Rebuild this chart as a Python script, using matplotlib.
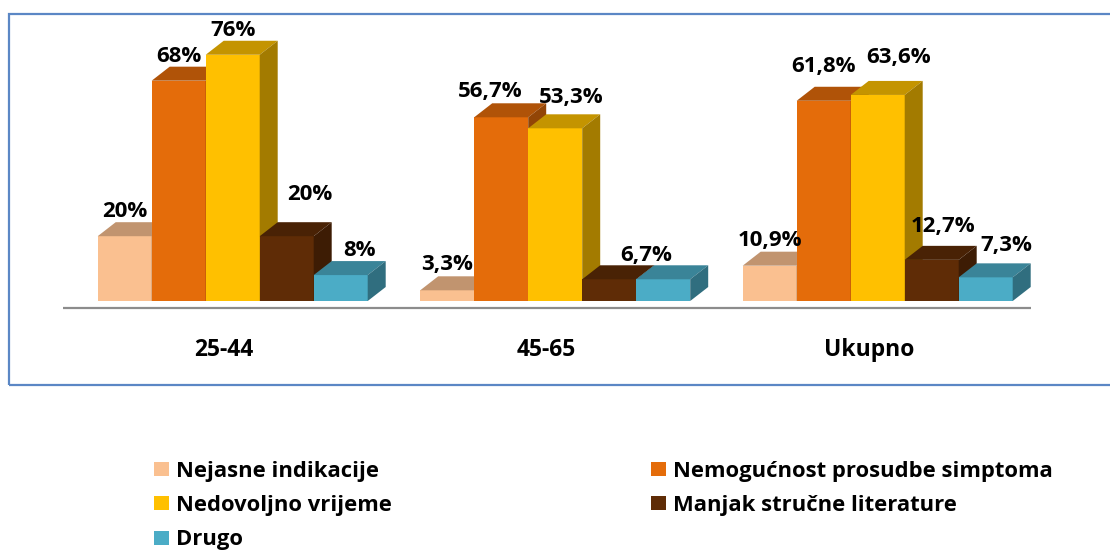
import matplotlib
matplotlib.use("Agg")
import matplotlib.pyplot as plt
from matplotlib.patches import Polygon, Rectangle, Patch
from matplotlib.colors import to_rgb

# ---------------- data ----------------
categories = ["25-44", "45-65", "Ukupno"]
series_names = ["Nejasne indikacije", "Nemogućnost prosudbe simptoma",
                "Nedovoljno vrijeme", "Manjak stručne literature", "Drugo"]
nejasne = [20.0, 3.3, 10.9]
nemogucnost = [68.0, 56.7, 61.8]
nedovoljno = [76.0, 53.3, 63.6]
manjak = [20.0, 6.7, 12.7]
drugo = [8.0, 6.7, 7.3]
series_values = [nejasne, nemogucnost, nedovoljno, manjak, drugo]
# which data labels are shown (one label hidden in the original)
label_shown = [[True, True, True], [True, True, True], [True, True, True],
               [True, False, True], [True, True, True]]

# ---------------- style ----------------
colors = ["#FAC090", "#E46C0A", "#FFC000", "#5F2C06", "#4BACC6"]
TOP_SHADE, SIDE_SHADE = 0.77, 0.64
FONT = ["Open Sans", "DejaVu Sans"]

W_PX, H_PX = 1110, 551
PX_PER_CAT = 322.5          # pixels per category unit
PX_PER_PCT = 3.24           # pixels per percent
ORIGIN_X_PX = 232.7         # pixel x of first category centre
BASE_Y_PX = 301             # pixel y (from top) of bar bases
BAR_W = 54 / PX_PER_CAT
DEPTH_X_PX, DEPTH_Y_PX = 18, 14

# label offsets in pixels (dx, gap above back-top edge) per series / category
label_dx = [[0, 0, 0], [0, -11, 0], [0, 16, 21], [23, 0, 11], [19, -17, 21]]
label_gap = [[5, 6, 6], [5, 6, 15], [5, 11, 18], [22, 0, 14], [5, 4, 12]]


def shade(c, f):
    r, g, b = to_rgb(c)
    return (r * f, g * f, b * f)


fig = plt.figure(figsize=(W_PX / 100, H_PX / 100), dpi=100)
ax = fig.add_axes([0, 0, 1, 1])
ax.set_xlim(-ORIGIN_X_PX / PX_PER_CAT, (W_PX - ORIGIN_X_PX) / PX_PER_CAT)
ax.set_ylim(-(H_PX - BASE_Y_PX) / PX_PER_PCT, BASE_Y_PX / PX_PER_PCT)
ax.axis("off")

ddx = DEPTH_X_PX / PX_PER_CAT
ddy = DEPTH_Y_PX / PX_PER_PCT

xs = list(range(len(categories)))
for j, (vals, col) in enumerate(zip(series_values, colors)):
    pos = [x + (j - 2) * BAR_W for x in xs]
    bars = ax.bar(pos, vals, width=BAR_W, color=col, linewidth=0, zorder=10 + j)
    for i, p in enumerate(bars.patches):
        x0, w, h = p.get_x(), p.get_width(), p.get_height()
        top = Polygon([(x0, h), (x0 + w, h), (x0 + w + ddx, h + ddy), (x0 + ddx, h + ddy)],
                      closed=True, facecolor=shade(col, TOP_SHADE), edgecolor="none", zorder=10 + j)
        side = Polygon([(x0 + w, 0), (x0 + w, h), (x0 + w + ddx, h + ddy), (x0 + w + ddx, ddy)],
                       closed=True, facecolor=shade(col, SIDE_SHADE), edgecolor="none", zorder=10 + j)
        ax.add_patch(top)
        ax.add_patch(side)
        if label_shown[j][i]:
            txt = f"{vals[i]:g}".replace(".", ",") + "%"
            lx = x0 + w / 2 + label_dx[j][i] / PX_PER_CAT
            ly = h + ddy + label_gap[j][i] / PX_PER_PCT
            ax.text(lx, ly, txt, ha="center", va="baseline", fontsize=16,
                    fontweight="bold", family=FONT, color="black", zorder=30)

# floor line
FLOOR_SHIFT_PX, FLOOR_DROP_PX = -8, 7
ax.plot([-0.5 + FLOOR_SHIFT_PX / PX_PER_CAT, len(categories) - 0.5 + FLOOR_SHIFT_PX / PX_PER_CAT],
        [-FLOOR_DROP_PX / PX_PER_PCT] * 2, color="#8C8C8C", lw=1.6, zorder=5,
        solid_capstyle="butt")

# category labels
CAT_DX_PX, CAT_Y_PX = -9, 350
for i, c in enumerate(categories):
    ax.text(i + CAT_DX_PX / PX_PER_CAT, -(CAT_Y_PX - BASE_Y_PX) / PX_PER_PCT, c,
            ha="center", va="center", fontsize=16.5, fontweight="bold", family=FONT)

# chart-area border
fig.patches.append(Rectangle((9 / W_PX, (H_PX - 385) / H_PX), 1.2, (385 - 14) / H_PX,
                             transform=fig.transFigure, fill=False,
                             edgecolor="#5B87C5", lw=1.6, clip_on=False))

# legend: two columns, row-major order as in original
handles = [Patch(facecolor=c, edgecolor="none") for c in colors]
col1 = [0, 2, 4]
col2 = [1, 3]
common = dict(frameon=False, handlelength=0.7, handleheight=0.6,
              handletextpad=0.3, labelspacing=0.6, borderpad=0, borderaxespad=0,
              prop={"family": FONT, "weight": "bold", "size": 15.8})
leg1 = fig.legend([handles[k] for k in col1], [series_names[k] for k in col1],
                  loc="upper left", bbox_to_anchor=(154 / W_PX, 1 - 461 / H_PX), **common)
leg2 = fig.legend([handles[k] for k in col2], [series_names[k] for k in col2],
                  loc="upper left", bbox_to_anchor=(651 / W_PX, 1 - 461 / H_PX), **common)

fig.savefig("out.png", dpi=100)
